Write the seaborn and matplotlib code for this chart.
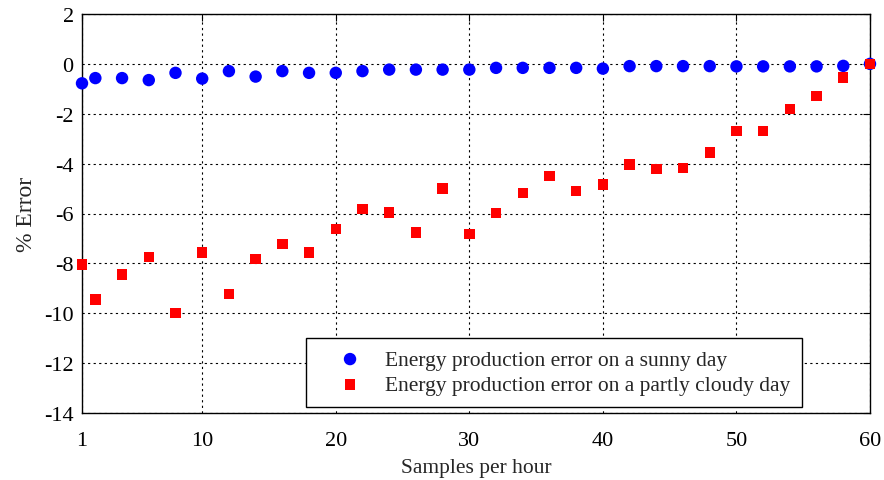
import numpy as np
import pandas as pd
import matplotlib
matplotlib.use("Agg")
import matplotlib.pyplot as plt
import seaborn as sns

sns.set_style("white")
plt.rcParams['font.family'] = ['Liberation Serif', 'DejaVu Serif']
plt.rcParams['axes.unicode_minus'] = False

# samples per hour
samples = [1, 2, 4, 6, 8, 10, 12, 14, 16, 18, 20, 22, 24, 26, 28, 30,
           32, 34, 36, 38, 40, 42, 44, 46, 48, 50, 52, 54, 56, 58, 60]
# % error, sunny day
sunny = [-0.78, -0.57, -0.57, -0.65, -0.36, -0.59, -0.29, -0.51, -0.29, -0.36,
         -0.36, -0.29, -0.23, -0.23, -0.23, -0.23, -0.16, -0.16, -0.16, -0.16,
         -0.19, -0.09, -0.09, -0.09, -0.09, -0.10, -0.10, -0.10, -0.10, -0.08, 0.0]
# % error, partly cloudy day
cloudy = [-8.05, -9.45, -8.44, -7.75, -9.98, -7.56, -9.24, -7.83, -7.23, -7.56,
          -6.62, -5.83, -5.96, -6.76, -5.0, -6.83, -5.97, -5.17, -4.5, -5.1,
          -4.84, -4.03, -4.22, -4.17, -3.56, -2.69, -2.69, -1.81, -1.28, -0.54, 0.0]

lbl_sunny = "Energy production error on a sunny day"
lbl_cloudy = "Energy production error on a partly cloudy day"

df = pd.DataFrame({
    "Samples": samples * 2,
    "Error": sunny + cloudy,
    "Day": [lbl_sunny] * len(samples) + [lbl_cloudy] * len(samples),
})

fig = plt.figure(figsize=(8.84, 4.81), dpi=100)
ax = fig.add_axes([82 / 884, 1 - 414 / 481, (870 - 82) / 884, (414 - 15) / 481])

sns.scatterplot(data=df[df.Day == lbl_sunny], x="Samples", y="Error", color="#0000ff",
                marker="o", s=80, edgecolor="none", label=lbl_sunny, ax=ax,
                zorder=3, clip_on=False)
sns.scatterplot(data=df[df.Day == lbl_cloudy], x="Samples", y="Error", color="#ff0000",
                marker="s", s=56, edgecolor="none", label=lbl_cloudy, ax=ax,
                zorder=4, clip_on=False)

ax.set_xlim(1, 60)
ax.set_ylim(-14, 2)
ax.set_xticks([1, 10, 20, 30, 40, 50, 60])
ax.set_yticks(np.arange(-14, 3, 2))
ax.grid(True, color="black", linestyle=(0, (2, 3)), linewidth=0.8)
ax.set_axisbelow(True)
for sp in ax.spines.values():
    sp.set_color("black")
    sp.set_linewidth(1.0)
ax.tick_params(direction="in", length=5, width=0.8, top=True, right=True,
               labelsize=16, colors="black", pad=6)
ax.tick_params(axis="x", pad=13)

ax.set_xlabel("Samples per hour", fontsize=15.5, labelpad=6)
ax.set_ylabel("% Error", fontsize=17, labelpad=5)

leg = ax.legend(loc="lower right", bbox_to_anchor=(0.9137, 0.015), fontsize=15.5,
                frameon=True, fancybox=False, edgecolor="black", framealpha=1,
                handlelength=3.0, handletextpad=0.12, borderpad=0.55,
                labelspacing=0.25, borderaxespad=0)
leg.get_frame().set_linewidth(1.0)

plt.savefig("out.png", dpi=100)
